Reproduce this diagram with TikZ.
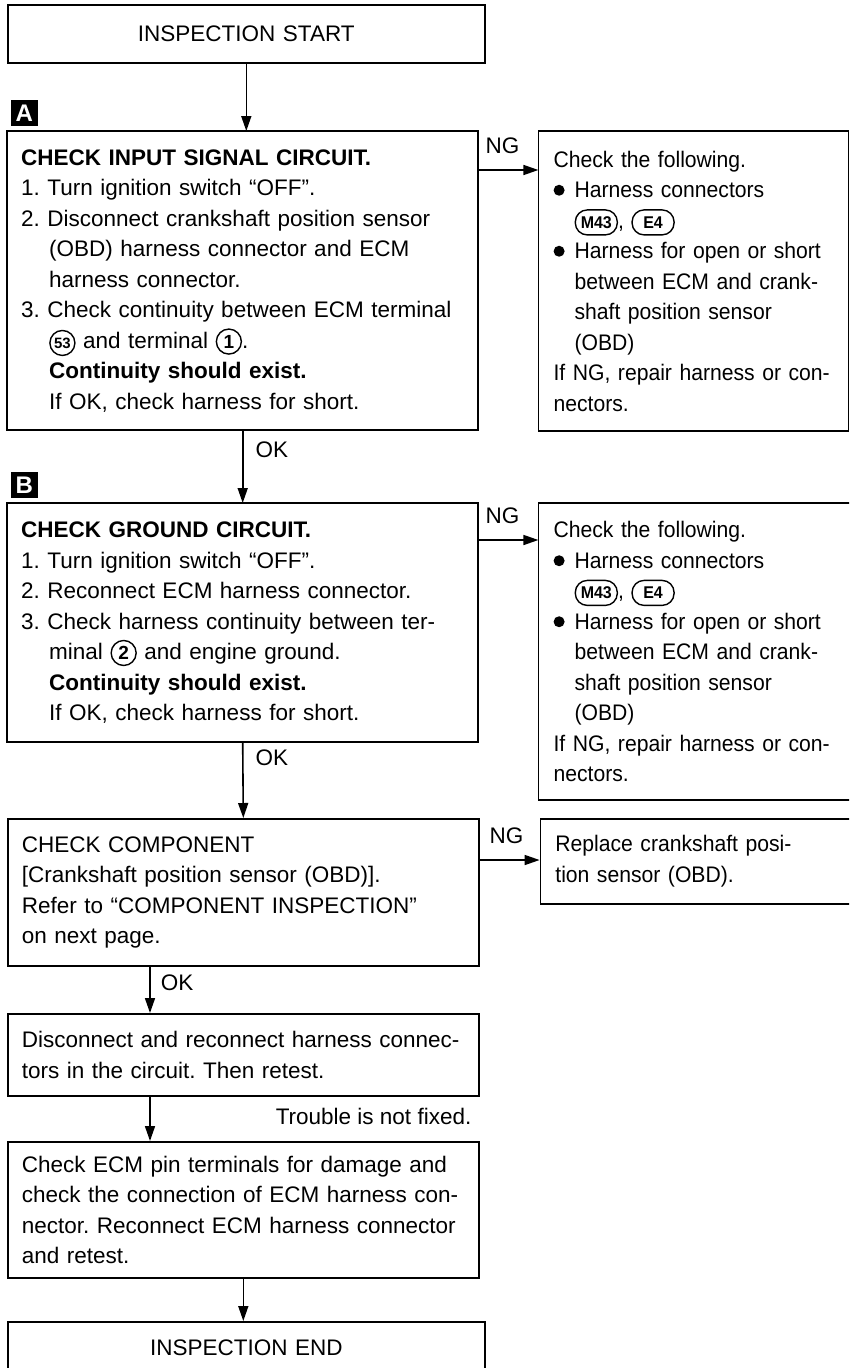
\documentclass[tikz,border=0pt]{standalone}
\usepackage{fontspec}
\setmainfont{Liberation Sans}
\newfontfamily\narrowsf[FakeStretch=0.94]{Liberation Sans}
\usetikzlibrary{arrows.meta, positioning}
% small marks used inside the box texts
\newcommand{\termno}[2][19]{\tikz[baseline=(t.base)]\node[draw,circle,line width=1.4pt,inner sep=1.5pt,minimum size=25pt,font=\fontsize{#1}{#1}\selectfont\bfseries] (t) {#2};}
\newcommand{\connno}[1]{\tikz[baseline=(t.base)]\node[draw,rounded corners=12pt,line width=1.4pt,inner xsep=3pt,inner ysep=3pt,minimum width=42pt,minimum height=25pt,font=\fontsize{17}{17}\selectfont\bfseries] (t) {#1};}
\newcommand{\dotitem}{\tikz[baseline=0pt]\fill (0,7.5pt) circle (5.5pt);\hspace{10pt}}
\newcommand{\stepin}{\hspace*{28pt}}
\newcommand{\itemin}{\hspace*{21pt}}

\begin{document}
\begin{tikzpicture}[x=1pt,y=-1pt,line width=1.6pt,
  every node/.style={font=\fontsize{22.5}{30.5}\selectfont\frenchspacing,inner sep=0pt},
  stepbox/.style={draw,anchor=north west,align=left,inner xsep=14pt,text width=443pt},
  endbox/.style={draw,anchor=north west,align=center,text width=477pt,minimum height=58pt},
  sidebox/.style={draw,anchor=north west,align=left,inner xsep=15pt,text width=#1,font=\fontsize{22.5}{30.5}\selectfont\narrowsf\frenchspacing},
  tag/.style={fill=black,text=white,font=\fontsize{24}{24}\selectfont\bfseries,inner sep=3pt,minimum width=27pt,minimum height=26pt},
  flow/.style={-{Triangle[length=15pt,width=10pt]}}]
  \path[use as bounding box,clip] (0,0) rectangle (849,1368);

  \node[endbox] (start) at (7,4) {INSPECTION START};

  % step A
  \node[stepbox,minimum height=299pt] (chkA) at (7,131)
    {\textbf{CHECK INPUT SIGNAL CIRCUIT.}\\
     1. Turn ignition switch “OFF”.\\
     2. Disconnect crankshaft position sensor\\
     \stepin(OBD) harness connector and ECM\\
     \stepin harness connector.\\
     3. Check continuity between ECM terminal\\
     \stepin\termno[15]{53} and terminal \termno{1}.\\
     \stepin\textbf{Continuity should exist.}\\
     \stepin If OK, check harness for short.};
  \node[tag,above right=4pt and 3pt of chkA.north west] (tagA) {A};
  \node[sidebox=280pt,minimum height=300pt,right=60pt of chkA.north east,anchor=north west] (ngA)
    {Check the following.\\
     \dotitem Harness connectors\\
     \itemin\connno{M43}, \connno{E4}\\
     \dotitem Harness for open or short\\
     \itemin between ECM and crank-\\
     \itemin shaft position sensor\\
     \itemin(OBD)\\
     If NG, repair harness or con-\\
     nectors.};

  % step B
  \node[stepbox,minimum height=239pt] (chkB) at (7,503)
    {\textbf{CHECK GROUND CIRCUIT.}\\
     1. Turn ignition switch “OFF”.\\
     2. Reconnect ECM harness connector.\\
     3. Check harness continuity between ter-\\
     \stepin minal \termno{2} and engine ground.\\
     \stepin\textbf{Continuity should exist.}\\
     \stepin If OK, check harness for short.};
  \node[tag,above right=4pt and 3pt of chkB.north west] (tagB) {B};
  \node[sidebox=300pt,minimum height=297pt,right=60pt of chkB.north east,anchor=north west] (ngB)
    {Check the following.\\
     \dotitem Harness connectors\\
     \itemin\connno{M43}, \connno{E4}\\
     \dotitem Harness for open or short\\
     \itemin between ECM and crank-\\
     \itemin shaft position sensor\\
     \itemin(OBD)\\
     If NG, repair harness or con-\\
     nectors.};

  % component
  \node[stepbox,minimum height=147pt] (chkC) at (7,818)
    {CHECK COMPONENT\\{}[Crankshaft position sensor (OBD)].\\
     Refer to “COMPONENT INSPECTION”\\
     on next page.};
  \node[sidebox=300pt,minimum height=85pt,right=60pt of chkC.north east,anchor=north west] (ngC)
    {Replace crankshaft posi-\\
     tion sensor (OBD).};

  \node[stepbox,minimum height=82pt] (retest) at (7,1013)
    {Disconnect and reconnect harness connec-\\
     tors in the circuit. Then retest.};
  \node[stepbox,minimum height=136pt] (pins) at (7,1141)
    {Check ECM pin terminals for damage and\\
     check the connection of ECM harness con-\\
     nector. Reconnect ECM harness connector\\
     and retest.};
  \node[endbox,minimum height=52pt] (finish) at (7,1321) {INSPECTION END};

  % connectors
  \draw[flow] (start.south) -- (start.south |- chkA.north);
  \draw[flow] (chkA.south) -- node[pos=0.27,right=12pt]{OK} (chkB.north);
  \draw[flow] (chkB.south) -- node[pos=0.2,right=12pt]{OK} (chkC.north);
  \draw[flow] ([xshift=143pt]chkC.south west) -- node[pos=0.35,right=10pt]{OK} ([xshift=143pt]retest.north west);
  \draw[flow] ([xshift=143pt]retest.south west) -- node[pos=0.45,right=125pt]{Trouble is not fixed.} ([xshift=143pt]pins.north west);
  \draw[flow] (pins.south) -- (pins.south |- finish.north);
  \draw[flow] ([yshift=-39pt]chkA.north east) -- node[pos=0.4,above=15pt]{NG} ([yshift=-39pt]ngA.north west);
  \draw[flow] ([yshift=-37pt]chkB.north east) -- node[pos=0.4,above=15pt]{NG} ([yshift=-37pt]ngB.north west);
  \draw[flow] ([yshift=-42pt]chkC.north east) -- node[pos=0.45,above=15pt]{NG} ([yshift=-42pt]ngC.north west);
\end{tikzpicture}
\end{document}
